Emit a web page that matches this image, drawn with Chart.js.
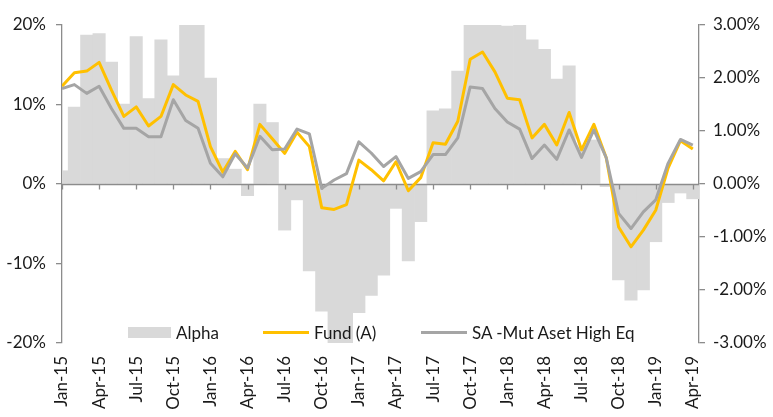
<!DOCTYPE html>
<html>
<head>
<meta charset="utf-8">
<script src="https://cdn.jsdelivr.net/npm/chart.js@4.4.1/dist/chart.umd.min.js"></script>
<style>
  html, body { margin: 0; padding: 0; background: #ffffff; }
  #wrap { position: relative; width: 773px; height: 417px; overflow: hidden; }
  #legend { position: absolute; left: 0; top: 0; width: 773px; height: 417px; pointer-events: none;
            font-family: Lato, "Noto Sans", sans-serif; font-size: 17px; color: #1a1a1a; }
  .item { position: absolute; top: 321px; height: 22px; display: flex; align-items: center; white-space: nowrap; }
  .sw { display: inline-block; margin-right: 5px; }
</style>
</head>
<body>
<div id="wrap">
  <canvas id="c" width="773" height="417"></canvas>
  <div id="legend"></div>
</div>
<script>
// ---- data ----
const months = [
  "Jan-15","Feb-15","Mar-15","Apr-15","May-15","Jun-15","Jul-15","Aug-15","Sep-15","Oct-15","Nov-15","Dec-15",
  "Jan-16","Feb-16","Mar-16","Apr-16","May-16","Jun-16","Jul-16","Aug-16","Sep-16","Oct-16","Nov-16","Dec-16",
  "Jan-17","Feb-17","Mar-17","Apr-17","May-17","Jun-17","Jul-17","Aug-17","Sep-17","Oct-17","Nov-17","Dec-17",
  "Jan-18","Feb-18","Mar-18","Apr-18","May-18","Jun-18","Jul-18","Aug-18","Sep-18","Oct-18","Nov-18","Dec-18",
  "Jan-19","Feb-19","Mar-19","Apr-19"
];
const tickMonthIndex = [0,3,6,9,12,15,18,21,24,27,30,33,36,39,42,45,48,51];

const seriesNames = ["Alpha", "Fund (A)", "SA -Mut Aset High Eq"];

// Alpha (right axis, %)
const alpha = [
  0.25, 1.45, 2.81, 2.84, 2.30, 1.51, 2.78, 1.61, 2.72, 2.04, 3.05, 3.05,
  2.00, 0.48, 0.28, -0.22, 1.51, 1.16, -0.87, -0.30, -1.64, -2.40, -3.10, -3.10,
  -2.43, -2.10, -1.72, -0.46, -1.45, -0.71, 1.38, 1.42, 2.13, 3.05, 3.05, 3.05,
  2.98, 3.05, 2.72, 2.54, 1.98, 2.23, 0.70, 0.83, -0.05, -1.81, -2.19, -2.00,
  -1.09, -0.35, -0.17, -0.28
];
// Fund (A) (left axis, %)
const fund = [
  12.3, 14.0, 14.2, 15.3, 11.8, 8.5, 9.7, 7.3, 8.5, 12.5, 11.2, 10.4,
  4.7, 1.5, 4.1, 1.8, 7.5, 5.7, 3.85, 6.5, 4.7, -3.0, -3.2, -2.6,
  3.0, 1.8, 0.4, 2.8, -0.85, 0.8, 5.2, 5.0, 7.9, 15.7, 16.6, 14.1,
  10.8, 10.6, 5.8, 7.5, 4.9, 9.0, 4.3, 7.5, 3.3, -5.4, -7.9, -5.8,
  -3.3, 2.0, 5.45, 4.4
];
// SA - Mut Aset High Eq (left axis, %)
const peer = [
  12.0, 12.5, 11.4, 12.3, 9.5, 7.0, 7.0, 5.95, 5.95, 10.6, 8.0, 7.0,
  2.6, 0.9, 3.8, 2.0, 6.0, 4.3, 4.4, 6.9, 6.3, -0.55, 0.5, 1.3,
  5.3, 3.9, 2.2, 3.45, 0.7, 1.55, 3.7, 3.7, 5.8, 12.2, 12.0, 9.5,
  7.8, 6.9, 3.2, 4.9, 3.1, 6.8, 3.35, 6.8, 3.3, -3.7, -5.6, -3.5,
  -2.0, 2.6, 5.6, 4.9
];

// ---- styles ----
const COL_BAR = "#D9D9D9";
const COL_FUND = "#FFC000";
const COL_PEER = "#A5A5A5";
const COL_AXIS = "#8C8C8C";
const COL_TEXT = "#1a1a1a";
const FONT = { family: "Lato", size: 17 };

Chart.defaults.font.family = "Lato";
Chart.defaults.color = COL_TEXT;

const toXY = arr => arr.map((v, i) => ({ x: i, y: v }));

// zero line + category tick marks of the horizontal axis (drawn between bars and lines)
const zeroAxis = {
  id: "zeroAxis",
  afterDatasetDraw(chart, args) {
    if (args.index !== 0) return;
    const { ctx, chartArea } = chart;
    const xs = chart.scales.x, ys = chart.scales.y;
    const y0 = Math.round(ys.getPixelForValue(0)) + 0.5;
    ctx.save();
    ctx.strokeStyle = COL_AXIS;
    ctx.lineWidth = 1.3;
    ctx.beginPath();
    ctx.moveTo(chartArea.left, y0);
    ctx.lineTo(chartArea.right, y0);
    tickMonthIndex.forEach(i => {
      const px = Math.round(xs.getPixelForValue(i)) + 0.5;
      ctx.moveTo(px, y0);
      ctx.lineTo(px, y0 + 5);
    });
    ctx.stroke();
    ctx.restore();
  }
};

new Chart(document.getElementById("c"), {
  type: "bar",
  data: {
    datasets: [
      {
        type: "bar", label: seriesNames[0], data: toXY(alpha), yAxisID: "y2",
        backgroundColor: COL_BAR, borderWidth: 0, barPercentage: 1, categoryPercentage: 1,
        order: 3, clip: 0
      },
      {
        type: "line", label: seriesNames[1], data: toXY(fund), yAxisID: "y",
        borderColor: COL_FUND, borderWidth: 3, pointRadius: 0, tension: 0,
        borderJoinStyle: "round", fill: false, order: 2
      },
      {
        type: "line", label: seriesNames[2], data: toXY(peer), yAxisID: "y",
        borderColor: COL_PEER, borderWidth: 3, pointRadius: 0, tension: 0,
        borderJoinStyle: "round", fill: false, order: 1
      }
    ]
  },
  options: {
    responsive: false,
    devicePixelRatio: 1,
    animation: false,
    layout: { padding: { top: 25, left: 0, right: 0, bottom: 0 } },
    plugins: { legend: { display: false }, tooltip: { enabled: false } },
    scales: {
      x: {
        type: "linear", position: "bottom", min: 0, max: 51.5, offset: false,
        afterBuildTicks: s => { s.ticks = tickMonthIndex.map(v => ({ value: v })); },
        ticks: {
          autoSkip: false, minRotation: 90, maxRotation: 90, padding: 13,
          font: FONT, color: COL_TEXT,
          callback: v => months[v]
        },
        grid: { display: false, drawTicks: false, offset: false },
        border: { display: false },
        afterFit: s => { s.height = 74; s.paddingLeft = 0; s.paddingRight = 0; }
      },
      y: {
        position: "left", min: -20, max: 20,
        ticks: { stepSize: 10, padding: 10, font: FONT, color: COL_TEXT, callback: v => v + "%" },
        grid: { drawOnChartArea: false, drawTicks: true, tickLength: 6, color: COL_AXIS, lineWidth: 1.3 },
        border: { display: true, color: COL_AXIS, width: 1.3 },
        afterFit: s => { s.width = 62; s.paddingTop = 0; s.paddingBottom = 0; }
      },
      y2: {
        position: "right", min: -3, max: 3,
        ticks: { stepSize: 1, padding: 8, font: FONT, color: COL_TEXT, callback: v => v.toFixed(2) + "%" },
        grid: { drawOnChartArea: false, drawTicks: true, tickLength: 6, color: COL_AXIS, lineWidth: 1.3 },
        border: { display: true, color: COL_AXIS, width: 1.3 },
        afterFit: s => { s.width = 74; s.paddingTop = 0; s.paddingBottom = 0; }
      }
    }
  },
  plugins: [zeroAxis]
});

// legend (real text), inside the plot near the bottom
const legend = document.getElementById("legend");
const legendItems = [
  { name: seriesNames[0], left: 128, swatch: `<span class="sw" style="width:43px;height:11px;background:${COL_BAR}"></span>` },
  { name: seriesNames[1], left: 263, swatch: `<span class="sw" style="width:46px;height:3px;background:${COL_FUND}"></span>` },
  { name: seriesNames[2], left: 421, swatch: `<span class="sw" style="width:46px;height:3px;background:${COL_PEER}"></span>` }
];
legendItems.forEach(it => {
  const d = document.createElement("div");
  d.className = "item";
  d.style.left = it.left + "px";
  d.innerHTML = it.swatch + `<span>${it.name}</span>`;
  legend.appendChild(d);
});
</script>
</body>
</html>
